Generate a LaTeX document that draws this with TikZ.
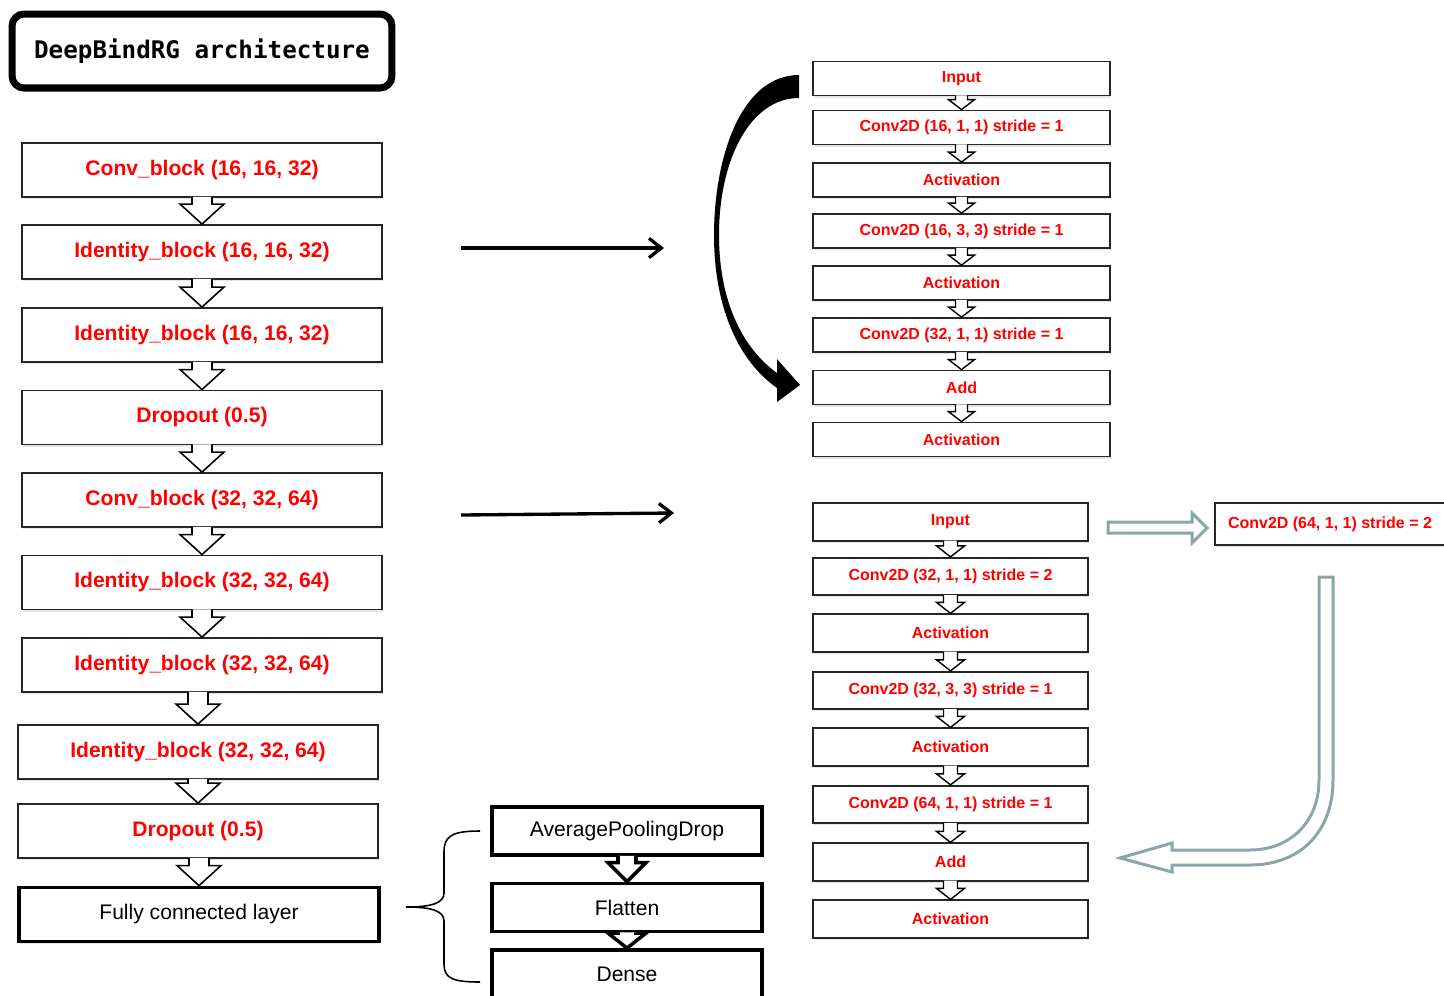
\documentclass[tikz,border=0pt]{standalone}
\usepackage{fontspec}
\setmainfont{Liberation Sans}
\newfontfamily\titlefont{DejaVu Sans Mono}
\usetikzlibrary{calc,arrows.meta,shadows}

\definecolor{shortgray}{RGB}{138,166,168}

\tikzset{every picture/.style={line width=0.75pt}}
\tikzset{
  softshadow/.style={drop shadow={shadow xshift=0.5pt, shadow yshift=-1.2pt, opacity=0.2}},
  titlebox/.style={draw, line width=4pt, rounded corners=0.24cm, fill=white, minimum width=7.6cm, minimum height=1.48cm, font=\titlefont\bfseries\fontsize{13.8}{16}\selectfont, softshadow},
  blockbox/.style={draw=black!85, line width=1.1pt, fill=white, minimum width=7.2cm, minimum height=1.08cm, text=red, font=\bfseries\fontsize{12}{14}\selectfont, softshadow},
  fcbox/.style={blockbox, draw=black, line width=2.2pt, text=black, font=\fontsize{12}{14}\selectfont},
  resbox/.style={draw=black!85, line width=1pt, fill=white, minimum width=5.94cm, minimum height=0.68cm, text=red, font=\bfseries\fontsize{9.1}{11}\selectfont, softshadow},
  skipbox/.style={resbox, minimum width=5.5cm, minimum height=0.75cm},
  densebox/.style={draw, line width=2.2pt, fill=white, minimum width=5.4cm, minimum height=0.96cm, font=\fontsize{12}{14}\selectfont},
  linkarrow/.style={line width=1.9pt, -{Straight Barb[length=7pt, width=11pt]}},
  grayarrow/.style={draw=shortgray, line width=1.7pt, fill=white, line join=miter}
}

% hollow block arrow: [style] from, to, shaft half width, head half width, head length
\newcommand{\blockarrow}[6][line width=0.9pt]{%
  \draw[#1, fill=white, line join=miter]
    ($(#2.south -| #3.north)+(-#4,-1)$) -- ($(#3.north)+(-#4,-#6)$) -- ($(#3.north)+(-#5,-#6)$)
    -- (#3.north) -- ($(#3.north)+(#5,-#6)$) -- ($(#3.north)+(#4,-#6)$) -- ($(#2.south -| #3.north)+(#4,-1)$);}

\begin{document}
\begin{tikzpicture}[x=0.02cm, y=-0.02cm]
    \useasboundingbox (0,0) rectangle (1444,995);

    \node[titlebox] (title) at (202,51) {DeepBindRG architecture};

    % main column
    \node[blockbox] (conva) at (202,170) {Conv\_block (16, 16, 32)};
    \node[blockbox] (idaa) at (202,252) {Identity\_block (16, 16, 32)};
    \node[blockbox] (idab) at (202,335) {Identity\_block (16, 16, 32)};
    \node[blockbox] (dropa) at (202,417.5) {Dropout (0.5)};
    \node[blockbox] (convb) at (202,500) {Conv\_block (32, 32, 64)};
    \node[blockbox] (idba) at (202,582.5) {Identity\_block (32, 32, 64)};
    \node[blockbox] (idbb) at (202,665) {Identity\_block (32, 32, 64)};
    \node[blockbox] (idbc) at (198,752) {Identity\_block (32, 32, 64)};
    \node[blockbox] (dropb) at (198,831) {Dropout (0.5)};
    \node[fcbox] (fc) at (199,914.5) {Fully connected layer};
    \foreach \a/\b in {conva/idaa, idaa/idab, idab/dropa, dropa/convb, convb/idba, idba/idbb, idbb/idbc, idbc/dropb, dropb/fc}
        \blockarrow{\a}{\b}{10}{22}{20};

    % identity block
    \node[resbox] (ria) at (961.5,78.5) {Input};
    \node[resbox] (rib) at (961.5,127.5) {Conv2D (16, 1, 1) stride = 1};
    \node[resbox] (ric) at (961.5,180) {Activation};
    \node[resbox] (rid) at (961.5,231) {Conv2D (16, 3, 3) stride = 1};
    \node[resbox] (rie) at (961.5,283) {Activation};
    \node[resbox] (rif) at (961.5,335) {Conv2D (32, 1, 1) stride = 1};
    \node[resbox] (rig) at (961.5,387.5) {Add};
    \node[resbox] (rih) at (961.5,439.5) {Activation};
    \foreach \a/\b in {ria/rib, rib/ric, ric/rid, rid/rie, rie/rif, rif/rig, rig/rih}
        \blockarrow[line width=0.8pt]{\a}{\b}{6}{13}{10};

    % shortcut of the identity block
    \fill (799,75) .. controls (740,75) and (714,160) .. (714,235)
        .. controls (714,310) and (740,362) .. (777,388)
        -- (777,402) -- (800,385) -- (777,359) -- (777,373)
        .. controls (745,350) and (719,305) .. (719,235)
        .. controls (719,160) and (750,98) .. (799,98) -- cycle;

    % conv block
    \node[skipbox] (sia) at (950.5,522) {Input};
    \node[skipbox] (sib) at (950.5,576.5) {Conv2D (32, 1, 1) stride = 2};
    \node[skipbox] (sic) at (950.5,633) {Activation};
    \node[skipbox] (sid) at (950.5,690.5) {Conv2D (32, 3, 3) stride = 1};
    \node[skipbox] (sie) at (950.5,747) {Activation};
    \node[skipbox] (sif) at (950.5,804.5) {Conv2D (64, 1, 1) stride = 1};
    \node[skipbox] (sig) at (950.5,862) {Add};
    \node[skipbox] (sih) at (950.5,919) {Activation};
    \foreach \a/\b in {sia/sib, sib/sic, sic/sid, sid/sie, sie/sif, sif/sig, sig/sih}
        \blockarrow[line width=0.8pt]{\a}{\b}{7}{14}{11};
    \node[resbox, minimum width=4.6cm, minimum height=0.84cm] (sconv) at (1330,524) {Conv2D (64, 1, 1) stride = 2};

    % shortcut of the conv block
    \path[grayarrow] (1108,522) -- (1192,522) -- (1192,513) -- (1207,528) -- (1192,543) -- (1192,533) -- (1108,533) -- cycle;
    \path[grayarrow] (1319,577) -- (1333,577) -- (1333,780) .. controls (1333,832) and (1300,865) .. (1250,865)
        -- (1172,865) -- (1172,872) -- (1120,858) -- (1172,843) -- (1172,850) -- (1250,850)
        .. controls (1290,850) and (1319,822) .. (1319,780) -- cycle;

    % links to the blocks
    \coordinate (la) at (461,248);
    \coordinate (lb) at (664,248);
    \coordinate (lc) at (461,515);
    \coordinate (ld) at (674,513);
    \draw[linkarrow] (la) -- (lb);
    \draw[linkarrow] (lc) -- (ld);

    % fully connected layer
    \node[densebox] (avgpool) at (627,831) {AveragePoolingDrop};
    \node[densebox] (flatten) at (627,907.5) {Flatten};
    \node[densebox] (dense) at (627,974) {Dense};
    \blockarrow[line width=2pt]{avgpool}{flatten}{9}{19}{19};
    \blockarrow[line width=2pt]{flatten}{dense}{9}{19}{15};
    \draw[line width=0.9pt] (480,831) .. controls (452,831) and (444,836) .. (444,852) -- (444,893)
        .. controls (444,903) and (432,907) .. (406,907)
        .. controls (432,907) and (444,911) .. (444,921) -- (444,964)
        .. controls (444,978) and (452,982) .. (480,982);
\end{tikzpicture}
\end{document}
